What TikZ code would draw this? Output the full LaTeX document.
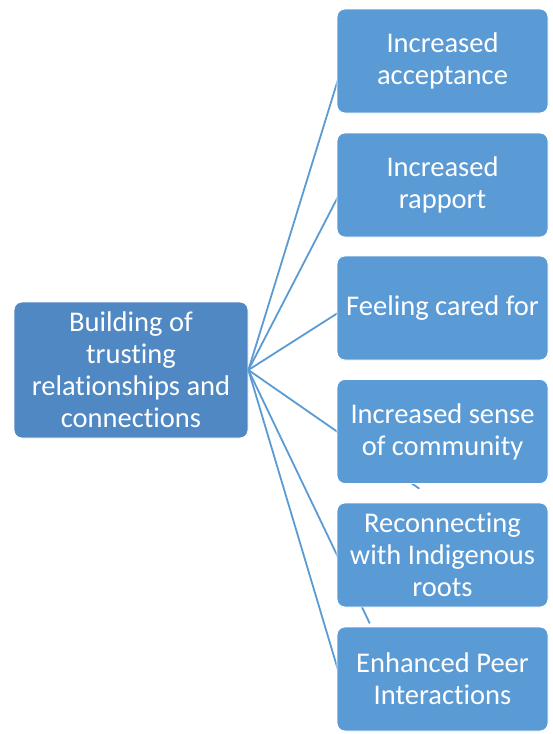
\documentclass[tikz,border=0pt]{standalone}
\usepackage{fontspec}
\setmainfont{Carlito}[Ligatures=NoCommon]
\usetikzlibrary{calc}
\definecolor{boxblue}{HTML}{5B9BD5}
\definecolor{hubblue}{HTML}{4F88C2}
\begin{document}
\begin{tikzpicture}[x=1pt,y=-1pt,
  itembox/.style={rectangle, rounded corners=8pt, fill=boxblue, draw=white, line width=0.8pt,
    minimum width=211pt, minimum height=104pt, inner sep=2pt, align=center, text=white,
    font=\fontsize{28.5}{32}\selectfont},
  hubbox/.style={itembox, fill=hubblue, minimum width=234pt, minimum height=136pt},
  link/.style={draw=boxblue, line width=1.8pt}]
\useasboundingbox (0,0) rectangle (552,734);
\fill[white] (0,0) rectangle (552,734);

% central box and its six outcomes
\node[hubbox] (hub) at (131,370) {Building of\\trusting\\relationships and\\connections};
\coordinate (h) at (hub.east);

\path (442.5,61)  coordinate (p1)
      (442.5,185) coordinate (p2)
      (442.5,308) coordinate (p3)
      (442.5,431.5) coordinate (p4)
      (442.5,555) coordinate (p5)
      (442.5,679) coordinate (p6);

% connectors run underneath the outcome boxes
\coordinate (w4) at ($(p4)+(-105.5,0)$);
\coordinate (w5) at ($(p5)+(-105.5,0)$);
\coordinate (e4) at ($(h)!1.93!(w4)$);
\coordinate (e5) at ($(h)!1.37!(w5)$);
\draw[link] (h) -- ($(p1)+(-100,4)$);
\draw[link] (h) -- ($(p2)+(-100,3)$);
\draw[link] (h) -- ($(p3)+(-100,2)$);
\draw[link] (h) -- (e4);
\draw[link] (h) -- (e5);
\draw[link] (h) -- ($(p6)+(-103,-4)$);

\node[itembox] (b1) at (p1) {Increased\\acceptance};
\node[itembox] (b2) at (p2) {Increased\\rapport};
\node[itembox] (b3) at (p3) {Feeling cared for};
\node[itembox] (b4) at (p4) {Increased sense\\of community};
\node[itembox] (b5) at (p5) {Reconnecting\\with Indigenous\\roots};
\node[itembox] (b6) at (p6) {Enhanced Peer\\Interactions};
\end{tikzpicture}
\end{document}
